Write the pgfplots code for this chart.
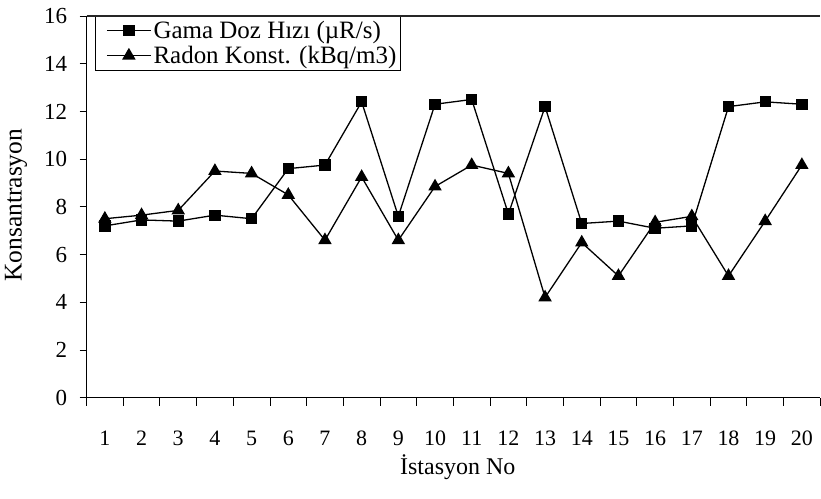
\documentclass[border=0pt]{standalone}
\usepackage{pgfplots}
\pgfplotsset{compat=1.18}
\usepackage{fontspec}
\setmainfont{Liberation Serif}
\begin{document}
\begin{tikzpicture}
\begin{axis}[
  name=ax,
  scale only axis, width=734.4pt, height=382pt,
  xmin=0.5, xmax=20.5, ymin=0, ymax=16,
  axis x line*=bottom, axis y line*=left,
  axis line style={line width=1.6pt, -},
  xtick={1,...,20},
  major x tick style={draw=none},
  minor xtick={0.5,1.5,...,20.5},
  ytick={0,2,...,16},
  tick align=outside,
  major tick length=7pt, minor tick length=8pt,
  tick style={black, line width=0.8pt},
  /pgf/number format/assume math mode=true,
  ticklabel style={font=\fontsize{22}{24}\selectfont},
  yticklabel style={xshift=-9pt, font=\fontsize{23}{25}\selectfont},
  xticklabel style={yshift=-23pt},
  xlabel={İstasyon No},
  ylabel={Konsantrasyon},
  xlabel style={font=\fontsize{24}{26}\selectfont, at={(axis description cs:0.506,-0.183)}, anchor=center},
  ylabel style={font=\fontsize{25.5}{27}\selectfont, at={(axis description cs:-0.096,0.504)}, anchor=center},
  legend style={at={(axis description cs:0.0114,1)}, anchor=north west,
    draw=black, line width=0.8pt, fill=white,
    font=\fontsize{25}{27}\selectfont, inner xsep=2pt, inner ysep=3pt,
    row sep=2pt, cells={anchor=west}},
  legend image code/.code={\path (0pt,0pt); \draw[#1, mark repeat=2, mark phase=2] plot coordinates {(9pt,0pt) (31pt,0pt) (53pt,0pt)};},
  clip=false,
]
\addplot[black, line width=1.3pt, mark=square*, mark size=5pt] coordinates {
(1,7.2) (2,7.45) (3,7.4) (4,7.65) (5,7.5) (6,9.6) (7,9.75) (8,12.4) (9,7.6) (10,12.3)
(11,12.5) (12,7.7) (13,12.2) (14,7.3) (15,7.4) (16,7.1) (17,7.2) (18,12.2) (19,12.4) (20,12.3)};
\addlegendentry{Gama Doz Hızı (µR/s)}
\addplot[black, line width=1.3pt, mark=triangle*, mark size=6.5pt] coordinates {
(1,7.5) (2,7.65) (3,7.85) (4,9.5) (5,9.4) (6,8.5) (7,6.6) (8,9.25) (9,6.6) (10,8.85)
(11,9.75) (12,9.4) (13,4.2) (14,6.5) (15,5.1) (16,7.35) (17,7.6) (18,5.1) (19,7.4) (20,9.75)};
\addlegendentry{Radon Konst. (kBq/m3)}
\end{axis}
\draw[line width=1.2pt, black!85] (ax.north west) -- (ax.north east);
\path (-86.6pt,-101pt) rectangle (734.4pt,398pt);
\end{tikzpicture}
\end{document}
